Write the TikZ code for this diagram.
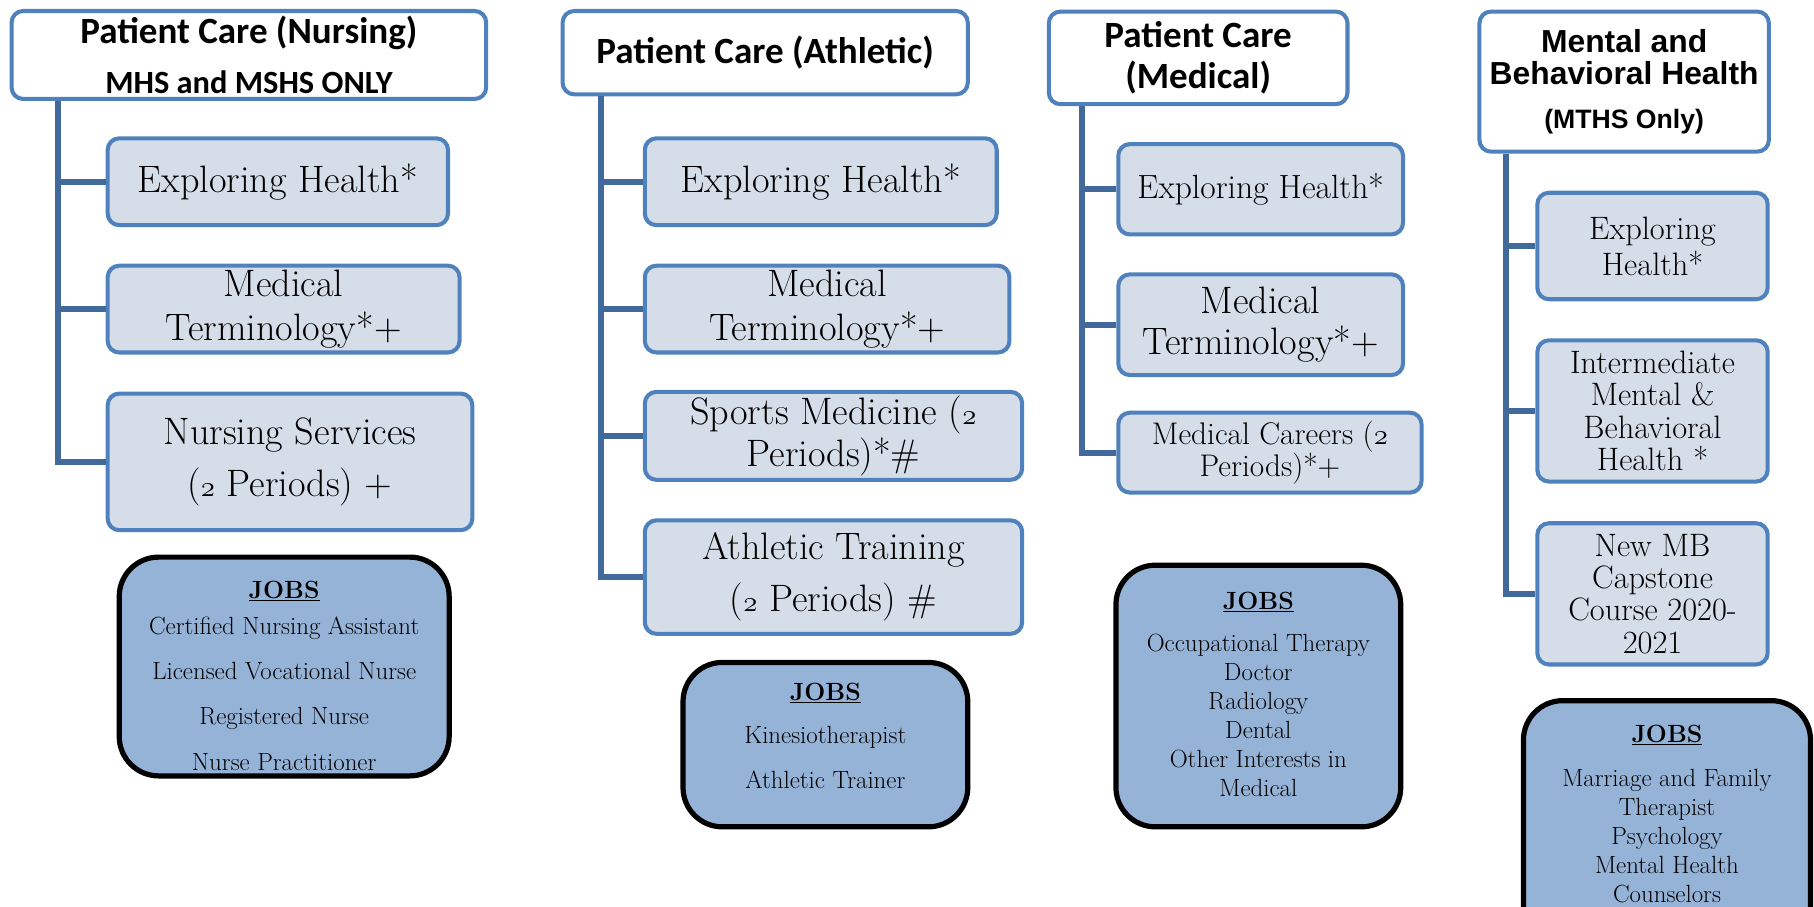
\documentclass[tikz,border=0pt]{standalone}
\usepackage{fontspec}
\newfontfamily\headfont{Carlito}
\newfontfamily\mhfont{Liberation Sans}
\definecolor{boxblue}{HTML}{4F81BD}
\definecolor{linkblue}{HTML}{41699C}
\definecolor{coursefill}{HTML}{D5DDE9}
\definecolor{jobsfill}{HTML}{95B3D7}
\newcommand{\two}{{\usefont{OML}{cmm}{m}{it}2}}
\newcommand{\fs}[2]{\fontsize{#1}{#2}\selectfont}
\tikzset{
  head/.style={draw=boxblue, fill=white, line width=3.5pt, rounded corners=10pt, align=center, inner sep=0pt},
  course/.style={draw=boxblue, fill=coursefill, line width=3.5pt, rounded corners=10pt, align=center, inner sep=0pt},
  jobsbox/.style={draw=black, fill=jobsfill, line width=4.5pt, rounded corners=34pt, anchor=north},
  jobstext/.style={anchor=north, align=center, inner sep=0pt},
  branch/.style={draw=linkblue, line width=5pt},
}
\begin{document}
\begin{tikzpicture}[x=1pt,y=-1pt]
\useasboundingbox (0,0) rectangle (1567,783);

% Patient Care (Nursing)
\node[head, minimum width=410, minimum height=76, font=\headfont\bfseries\fs{32}{43}] (t1) at (215,47.5)
  {Patient Care (Nursing)\\{\fs{28}{43}MHS and MSHS ONLY}};
\node[course, minimum width=294, minimum height=75, font=\fs{33}{38}] (n1a) at (240,157) {Exploring Health*};
\node[course, minimum width=304, minimum height=75, font=\fs{33}{38}] (n1b) at (245,267) {Medical\\Terminology*+};
\node[course, minimum width=315, minimum height=118, font=\fs{33}{45}] (n1c) at (250.5,399) {Nursing Services\\(\two{} Periods) +};
\node[jobsbox, minimum width=285, minimum height=189] (j1) at (245.5,479) {};
\node[jobstext, font=\fs{21.5}{39}] (j1t) at ([yshift=-23]j1.north)
  {\underline{\textbf{JOBS}}\\[-8pt]Certified Nursing Assistant\\Licensed Vocational Nurse\\Registered Nurse\\Nurse Practitioner};
\coordinate (s1) at (50,0);
\draw[branch] (s1 |- t1.south) |- (n1c.west);
\foreach \n in {n1a,n1b}
  \draw[branch] (s1 |- \n.west) -- (\n.west);

% Patient Care (Athletic)
\node[head, minimum width=350, minimum height=72, font=\headfont\bfseries\fs{32}{43}] (t2) at (661,45.5) {Patient Care (Athletic)};
\node[course, minimum width=304, minimum height=75, font=\fs{33}{38}] (n2a) at (709,157) {Exploring Health*};
\node[course, minimum width=315, minimum height=75, font=\fs{33}{38}] (n2b) at (714.5,267) {Medical\\Terminology*+};
\node[course, minimum width=326, minimum height=76, font=\fs{33}{36}] (n2c) at (720,376.5) {Sports Medicine (\two\\Periods)*\#};
\node[course, minimum width=326, minimum height=98, font=\fs{33}{45}] (n2d) at (720,498.5) {Athletic Training\\(\two{} Periods) \#};
\node[jobsbox, minimum width=246, minimum height=142] (j2) at (713,570) {};
\node[jobstext, font=\fs{21.5}{39}] (j2t) at ([yshift=-20]j2.north)
  {\underline{\textbf{JOBS}}\\[-2pt]Kinesiotherapist\\Athletic Trainer};
\coordinate (s2) at (519,0);
\draw[branch] (s2 |- t2.south) |- (n2d.west);
\foreach \n in {n2a,n2b,n2c}
  \draw[branch] (s2 |- \n.west) -- (\n.west);

% Patient Care (Medical)
\node[head, minimum width=258, minimum height=80, font=\headfont\bfseries\fs{32}{35}] (t3) at (1035,50) {Patient Care\\(Medical)};
\node[course, minimum width=246, minimum height=78, font=\fs{29}{36}] (n3a) at (1089,163.5) {Exploring Health*};
\node[course, minimum width=246, minimum height=87, font=\fs{33}{36}] (n3b) at (1089,280.5) {Medical\\Terminology*+};
\node[course, minimum width=262, minimum height=69, font=\fs{27}{28}] (n3c) at (1097,391) {Medical Careers (\two\\Periods)*+};
\node[jobsbox, minimum width=246, minimum height=226] (j3) at (1087,486) {};
\node[jobstext, font=\fs{21.5}{25}] (j3t) at ([yshift=-25]j3.north)
  {\underline{\textbf{JOBS}}\\[12pt]Occupational Therapy\\Doctor\\Radiology\\Dental\\Other Interests in\\Medical};
\coordinate (s3) at (935,0);
\draw[branch] (s3 |- t3.south) |- (n3c.west);
\foreach \n in {n3a,n3b}
  \draw[branch] (s3 |- \n.west) -- (\n.west);

% Mental and Behavioral Health
\node[head, minimum width=250, minimum height=121, font=\mhfont\bfseries\fs{27.5}{28}] (t4) at (1403,70.5)
  {Mental and\\Behavioral Health\\[10pt]{\fs{23}{28}(MTHS Only)}};
\node[course, minimum width=199, minimum height=92, font=\fs{28}{31}] (n4a) at (1427.5,212.5) {Exploring\\Health*};
\node[course, minimum width=199, minimum height=122, font=\fs{28}{28}] (n4b) at (1427.5,355) {Intermediate\\Mental \&\\Behavioral\\Health *};
\node[course, minimum width=199, minimum height=122, font=\fs{28}{28}] (n4c) at (1427.5,513) {New MB\\Capstone\\Course 2020-\\2021};
\node[jobsbox, minimum width=248, minimum height=330] (j4) at (1440,603) {};
\node[jobstext, font=\fs{21.5}{25}] (j4t) at ([yshift=-23]j4.north)
  {\underline{\textbf{JOBS}}\\[13pt]Marriage and Family\\Therapist\\Psychology\\Mental Health\\Counselors};
\coordinate (s4) at (1301,0);
\draw[branch] (s4 |- t4.south) |- (n4c.west);
\foreach \n in {n4a,n4b}
  \draw[branch] (s4 |- \n.west) -- (\n.west);
\end{tikzpicture}
\end{document}
